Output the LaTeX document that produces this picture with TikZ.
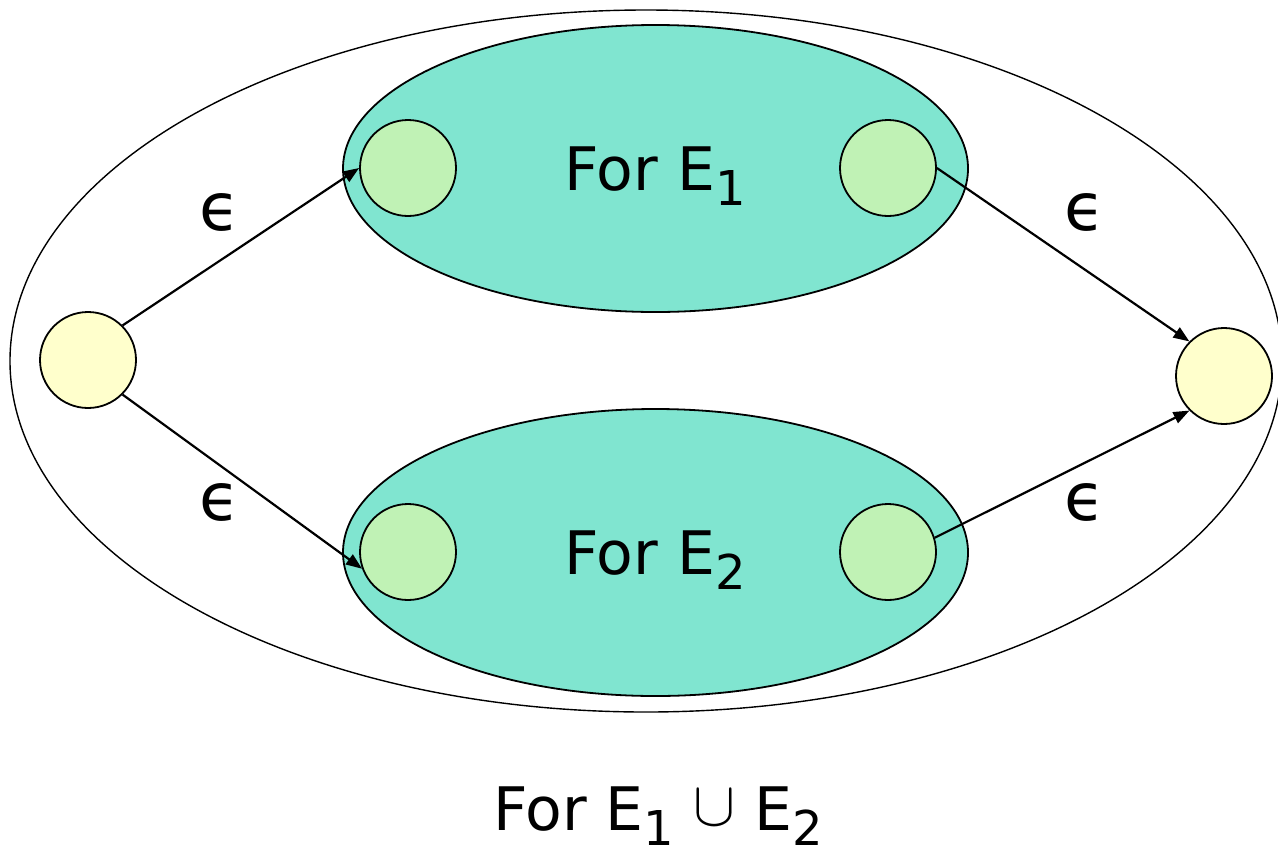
\documentclass[tikz,border=0pt]{standalone}
\usepackage{fontspec}
\setmainfont{DejaVu Sans}
\usetikzlibrary{shapes.geometric,arrows.meta}
\definecolor{tealfill}{HTML}{80E5D0}
\definecolor{greenfill}{HTML}{C0F2B5}
\definecolor{yellowfill}{HTML}{FFFFCC}
\newcommand{\sub}[1]{\raisebox{-0.45ex}{\fontsize{24}{24}\selectfont #1}}
\newcommand{\myunion}{\raisebox{0.15ex}{\resizebox{21pt}{!}{$\cup$}}}
\tikzset{
  outerell/.style={draw, ellipse, line width=0.7pt, inner sep=0pt, minimum width=636pt, minimum height=351pt},
  subell/.style={draw, ellipse, fill=tealfill, line width=0.9pt, inner sep=0pt, minimum width=312.5pt, minimum height=143.5pt},
  inner/.style={draw, circle, fill=greenfill, line width=0.9pt, inner sep=0pt, minimum size=48pt},
  outer/.style={draw, circle, fill=yellowfill, line width=0.9pt, inner sep=0pt, minimum size=48pt},
  arr/.style={-{Triangle[length=8pt,width=6pt]}, line width=1.1pt},
  lab/.style={font=\fontsize{30}{30}\selectfont},
  eps/.style={font=\fontsize{33}{33}\selectfont}
}
\begin{document}
\begin{tikzpicture}[x=0.5pt,y=-0.5pt]
\useasboundingbox (0,0) rectangle (1278,857);
\node[outerell] (all) at (646,361) {};
\node[subell] (e1) at (655.5,168.5) {};
\node[subell] (e2) at (655.5,552.5) {};
\node[inner] (a1) at (408,168) {};
\node[inner] (a2) at (888,168) {};
\node[inner] (b1) at (408,552) {};
\node[inner] (b2) at (888,552) {};
\node[outer] (s) at (88,360) {};
\node[outer] (f) at (1224,376) {};
\node[lab] (t1) at (655,176) {For E\sub{1}};
\node[lab] (t2) at (655,560) {For E\sub{2}};
\node[lab] (t3) at (658,816) {For E\sub{1} \myunion{} E\sub{2}};
\node[eps] (l1) at (220,212) {ϵ};
\node[eps] (l2) at (1085,212) {ϵ};
\node[eps] (l3) at (220,502) {ϵ};
\node[eps] (l4) at (1085,502) {ϵ};
\draw[arr] (s.45) -- (a1.west);
\draw[arr] (s.-45) -- (b1.200);
\draw[arr] (a2.east) -- (f.135);
\draw[arr] (b2.17) -- (f.225);
\end{tikzpicture}
\end{document}
